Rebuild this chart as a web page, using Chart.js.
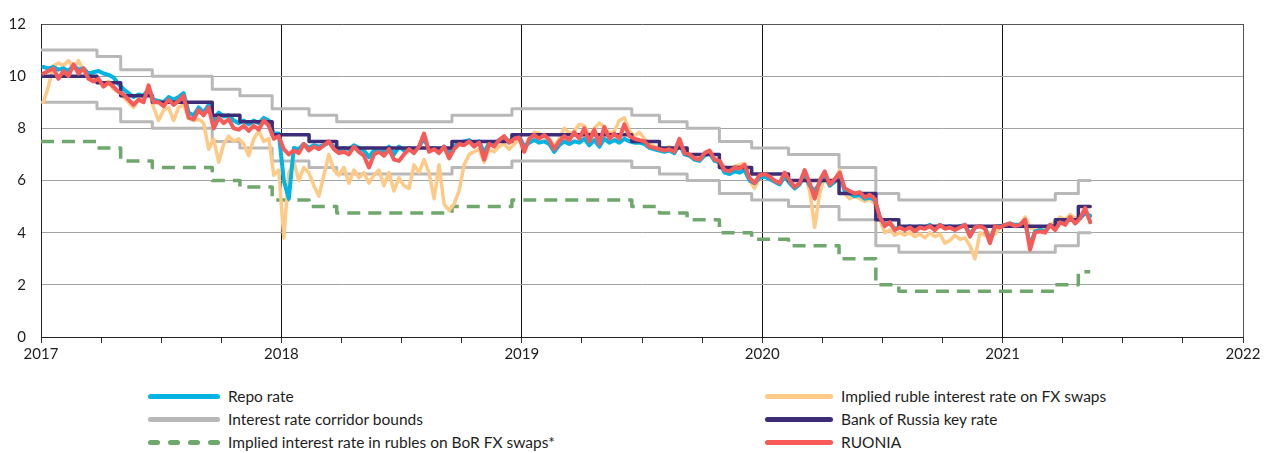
<!DOCTYPE html>
<html>
<head>
<meta charset="utf-8">
<script src="https://cdn.jsdelivr.net/npm/chart.js@4.4.1/dist/chart.umd.min.js"></script>
<style>
  body { margin: 0; background: #fff; font-family: Lato, "Liberation Sans", sans-serif; }
  #wrap { position: relative; width: 1272px; height: 453px; overflow: hidden; }
  #chartBox { position: absolute; left: 0; top: 0; width: 1272px; height: 370px; }
  .legend-item { position: absolute; height: 20px; display: flex; align-items: center; font-size: 15.5px; color: #1e1e1e; white-space: nowrap; }
  .swatch { height: 5px; border-radius: 3px; margin-right: 8px; }
  .dashes { display: flex; justify-content: space-between; margin-right: 8px; }
  .dashes span { width: 12px; height: 5px; border-radius: 3px; }
</style>
</head>
<body>
<div id="wrap">
  <div id="chartBox"><canvas id="chart"></canvas></div>
  <div id="legend"></div>
</div>
<script>
// weekly series, first point 2017.01, 48 points per year
const seriesStart = 2017.01;
const pointsPerYear = 48;

const ruonia = [
  10.1, 10.2, 10.3, 9.9, 10.2, 10.0, 10.45, 10.1, 10.3, 9.9, 9.8, 9.9, 9.6, 9.75, 9.6, 9.4, 9.3, 9.1, 8.9, 9.1, 9.0, 9.65, 9.0, 9.0, 8.85,
  9.1, 8.9, 9.05, 9.25, 8.4, 8.35, 8.7, 8.5, 8.8, 8.0, 8.4, 8.2, 8.35, 8.0, 7.95, 8.1, 7.9, 8.1, 7.95, 8.3, 8.1, 7.6, 7.7, 7.2,
  7.0, 7.15, 7.05, 7.4, 7.15, 7.3, 7.2, 7.35, 7.5, 7.2, 7.05, 7.1, 7.0, 7.3, 7.1, 6.95, 6.5, 7.0, 7.1, 6.95, 7.2, 6.8, 6.75, 7.0,
  7.2, 7.05, 7.3, 7.8, 7.1, 7.2, 7.05, 7.3, 6.85, 7.2, 7.4, 7.35, 7.5, 7.3, 7.45, 6.8, 7.4, 7.3, 7.55, 7.7, 7.45, 7.6, 7.65, 7.1,
  7.6, 7.75, 7.6, 7.75, 7.55, 7.2, 7.5, 7.7, 7.55, 7.85, 7.6, 8.0, 7.5, 7.95, 7.4, 8.05, 7.6, 7.8, 7.6, 8.15, 7.7, 7.6, 7.55, 7.5,
  7.3, 7.25, 7.2, 7.15, 7.2, 7.1, 7.6, 7.05, 7.0, 6.85, 6.8, 7.05, 7.15, 6.8, 6.75, 6.4, 6.35, 6.5, 6.45, 6.6, 6.1, 5.9, 6.2, 6.25,
  6.15, 6.0, 5.9, 6.3, 6.0, 5.75, 5.9, 6.4, 5.9, 5.3, 6.0, 6.35, 5.85, 6.05, 6.3, 5.7, 5.6, 5.5, 5.55, 5.35, 5.45, 5.3, 4.6, 4.25,
  4.4, 4.1, 4.2, 4.1, 4.2, 4.05, 4.2, 4.15, 4.25, 4.1, 4.3, 4.15, 4.2, 4.1, 4.2, 4.3, 3.85, 4.2, 4.25, 4.15, 3.6, 4.25, 4.2, 4.3,
  4.35, 4.25, 4.3, 4.5, 3.35, 4.0, 4.05, 4.0, 4.3, 4.1, 4.4, 4.3, 4.6, 4.35, 4.55, 4.95, 4.4
];

const repoRate = [
  10.35, 10.3, 10.35, 10.25, 10.3, 10.2, 10.4, 10.25, 10.3, 10.1, 10.15, 10.2, 10.1, 10.05, 9.95, 9.7, 9.5, 9.35, 9.2, 9.3, 9.25, 9.5, 9.1, 9.05, 9.0,
  9.2, 9.1, 9.2, 9.35, 8.6, 8.5, 8.8, 8.6, 8.9, 8.3, 8.6, 8.45, 8.5, 8.3, 8.2, 8.3, 8.15, 8.3, 8.2, 8.4, 8.3, 7.8, 7.8, 6.0,
  5.3, 7.25, 7.2, 7.4, 7.25, 7.35, 7.3, 7.35, 7.45, 7.3, 7.2, 7.25, 7.2, 7.35, 7.25, 7.15, 6.9, 7.15, 7.2, 7.1, 7.3, 7.0, 7.3, 7.15,
  7.25, 7.15, 7.3, 7.6, 7.2, 7.25, 7.15, 7.3, 7.05, 7.3, 7.45, 7.5, 7.55, 7.4, 7.5, 7.05, 7.45, 7.4, 7.55, 7.65, 7.5, 7.65, 7.7, 7.3,
  7.45, 7.55, 7.45, 7.5, 7.4, 7.1, 7.35, 7.5, 7.4, 7.5, 7.45, 7.6, 7.35, 7.55, 7.3, 7.6, 7.45, 7.55, 7.45, 7.6, 7.5, 7.45, 7.45, 7.4,
  7.25, 7.2, 7.15, 7.1, 7.15, 7.05, 7.4, 7.0, 6.95, 6.8, 6.75, 6.95, 7.05, 6.75, 6.7, 6.3, 6.25, 6.35, 6.3, 6.4, 6.0, 5.9, 6.1, 6.15,
  6.05, 5.95, 5.85, 6.15, 5.9, 5.7, 5.85, 6.2, 5.8, 5.6, 5.9, 6.2, 5.8, 5.95, 6.2, 5.6, 5.5, 5.4, 5.45, 5.3, 5.35, 5.25, 4.6, 4.3,
  4.35, 4.15, 4.2, 4.15, 4.25, 4.1, 4.25, 4.2, 4.3, 4.15, 4.3, 4.2, 4.25, 4.15, 4.25, 4.3, 3.95, 4.2, 4.25, 4.2, 3.7, 4.25, 4.25, 4.3,
  4.35, 4.3, 4.3, 4.45, 3.5, 4.05, 4.1, 4.05, 4.3, 4.15, 4.4, 4.35, 4.55, 4.4, 4.55, 4.75, 4.65
];

const fxSwapImplied = [
  9.0, 9.6, 10.4, 10.5, 10.4, 10.6, 10.3, 10.6, 10.2, 10.1, 9.9, 9.8, 9.7, 9.8, 9.5, 9.4, 9.2, 9.0, 8.8, 9.1, 9.2, 9.5, 8.8, 8.3, 8.7,
  8.8, 8.3, 8.8, 8.9, 8.4, 8.3, 8.35, 8.2, 7.2, 7.6, 6.7, 7.4, 7.7, 7.5, 7.6, 7.4, 6.95, 7.6, 7.9, 7.5, 7.6, 6.2, 6.4, 3.8,
  6.3, 6.7, 6.0, 6.5, 6.3, 5.8, 5.4, 6.2, 7.0, 6.4, 6.2, 6.5, 5.9, 6.4, 6.1, 6.3, 5.9, 6.2, 6.4, 5.8, 6.3, 5.6, 6.1, 5.8,
  5.7, 6.6, 6.3, 6.8, 6.3, 5.3, 6.6, 5.1, 4.85, 5.1, 5.6, 6.6, 7.0, 7.1, 7.2, 6.7, 7.2, 7.1, 7.3, 7.4, 7.2, 7.4, 7.6, 7.2,
  7.6, 7.85, 7.8, 7.7, 7.6, 7.3, 7.6, 8.0, 7.8, 7.9, 8.15, 8.1, 7.7, 8.0, 8.2, 8.05, 7.8, 7.9, 8.3, 8.4, 7.9, 7.7, 7.85, 7.6,
  7.4, 7.3, 7.25, 7.2, 7.3, 7.15, 7.5, 7.1, 6.95, 6.9, 6.85, 7.0, 7.1, 6.85, 6.8, 6.5, 6.35, 6.55, 6.6, 6.65, 6.0, 5.7, 6.1, 6.2,
  6.1, 5.95, 5.85, 6.2, 5.9, 5.7, 5.85, 6.3, 5.6, 4.2, 5.5, 6.2, 5.8, 6.0, 6.4, 5.5, 5.3, 5.4, 5.3, 5.2, 5.3, 5.1, 4.5, 4.0,
  4.1, 3.9, 4.0, 3.9, 4.0, 3.85, 3.95, 3.8, 4.0, 3.85, 3.95, 3.6, 3.7, 3.9, 3.75, 3.8, 3.5, 3.0, 4.0, 3.9, 4.0, 3.95, 4.2, 4.25,
  4.3, 4.25, 4.3, 4.6, 4.2, 4.1, 4.15, 4.1, 4.3, 4.4, 4.6, 4.5, 4.7, 4.55, 4.6, 4.75, 4.5
];

// step series: value holds from each decision date until the next one
const decisionDates = ['2017-01-01', '2017-03-27', '2017-05-02', '2017-06-19', '2017-09-18', '2017-10-30',
  '2017-12-18', '2018-02-12', '2018-03-26', '2018-09-17', '2018-12-17', '2019-06-17', '2019-07-29',
  '2019-09-09', '2019-10-28', '2019-12-16', '2020-02-10', '2020-04-27', '2020-06-22', '2020-07-27',
  '2021-03-22', '2021-04-26'];
const lastDate = '2021-05-14';
const keyRate = [10, 9.75, 9.25, 9, 8.5, 8.25, 7.75, 7.5, 7.25, 7.5, 7.75, 7.5, 7.25, 7, 6.5, 6.25, 6, 5.5, 4.5, 4.25, 4.5, 5];
const corridorUpper = [11, 10.75, 10.25, 10, 9.5, 9.25, 8.75, 8.5, 8.25, 8.5, 8.75, 8.5, 8.25, 8, 7.5, 7.25, 7, 6.5, 5.5, 5.25, 5.5, 6];
const corridorLower = [9, 8.75, 8.25, 8, 7.5, 7.25, 6.75, 6.5, 6.25, 6.5, 6.75, 6.5, 6.25, 6, 5.5, 5.25, 5, 4.5, 3.5, 3.25, 3.5, 4];
const borSwapRate = [7.5, 7.25, 6.75, 6.5, 6, 5.75, 5.25, 5, 4.75, 5, 5.25, 5, 4.75, 4.5, 4, 3.75, 3.5, 3, 2, 1.75, 2, 2.5];

const yearTicks = [2017, 2018, 2019, 2020, 2021, 2022];

function toYear(s) {
  const d = Date.parse(s + 'T00:00:00Z');
  const y = parseInt(s.slice(0, 4));
  const start = Date.UTC(y, 0, 1), end = Date.UTC(y + 1, 0, 1);
  return y + (d - start) / (end - start);
}

function weekly(values) {
  return values.map((v, i) => ({ x: seriesStart + i / pointsPerYear, y: v }));
}

function steps(values) {
  const pts = decisionDates.map((d, i) => ({ x: toYear(d), y: values[i] }));
  pts.push({ x: toYear(lastDate), y: values[values.length - 1] });
  return pts;
}

const colors = {
  repo: '#00b4e4',
  fx: '#ffc986',
  corridor: '#b8b8b8',
  key: '#3d2c78',
  bor: '#6fa86c',
  ruonia: '#f85a58'
};

function line(label, data, color, width, order, extra) {
  return Object.assign({
    label: label,
    data: data,
    borderColor: color,
    backgroundColor: color,
    borderWidth: width,
    pointRadius: 0,
    tension: 0,
    borderJoinStyle: 'round',
    borderCapStyle: 'round',
    order: order
  }, extra || {});
}

const datasets = [
  line('RUONIA', weekly(ruonia), colors.ruonia, 4, 0),
  line('Bank of Russia key rate', steps(keyRate), colors.key, 3.5, 1, { stepped: true }),
  line('Repo rate', weekly(repoRate), colors.repo, 4, 2),
  line('Implied ruble interest rate on FX swaps', weekly(fxSwapImplied), colors.fx, 3.5, 3),
  line('Implied interest rate in rubles on BoR FX swaps*', steps(borSwapRate), colors.bor, 3.5, 4,
    { stepped: true, borderDash: [13, 8], borderCapStyle: 'butt' }),
  line('Interest rate corridor bounds', steps(corridorUpper), colors.corridor, 3, 5, { stepped: true }),
  line('Interest rate corridor bounds', steps(corridorLower), colors.corridor, 3, 6, { stepped: true })
];

const tickFont = { family: 'Lato, "Liberation Sans", sans-serif', size: 15 };

new Chart(document.getElementById('chart'), {
  type: 'line',
  data: { datasets: datasets },
  options: {
    responsive: true,
    maintainAspectRatio: false,
    animation: false,
    layout: { padding: { top: 14, right: 29, left: 0, bottom: 0 } },
    plugins: { legend: { display: false }, tooltip: { enabled: false } },
    scales: {
      x: {
        type: 'linear',
        min: 2017,
        max: 2022,
        afterFit: s => { s.height = 33; },
        afterBuildTicks: s => {
          const t = [];
          for (let q = 0; q <= 20; q++) t.push({ value: 2017 + q / 4 });
          s.ticks = t;
        },
        ticks: {
          autoSkip: false,
          maxRotation: 0,
          padding: 2,
          color: '#1e1e1e',
          font: tickFont,
          callback: v => (yearTicks.includes(v) ? String(v) : '')
        },
        grid: {
          color: c => (c.tick && Number.isInteger(c.tick.value)) ? (c.tick.value === 2022 ? '#555' : '#111') : 'rgba(0,0,0,0)',
          tickColor: '#333',
          tickLength: 6,
          lineWidth: 1
        },
        border: { color: '#222', width: 1 }
      },
      y: {
        min: 0,
        max: 12,
        afterFit: s => { s.width = 41; },
        ticks: { stepSize: 2, padding: 15, color: '#1e1e1e', font: tickFont },
        grid: {
          color: c => c.tick && c.tick.value === 12 ? '#555' : '#a3a3a3',
          drawTicks: false,
          lineWidth: 1
        },
        border: { color: '#222', width: 1 }
      }
    }
  }
});

// legend laid out in two columns like the original
const legendRows = [
  [{ label: 'Repo rate', color: colors.repo }, { label: 'Implied ruble interest rate on FX swaps', color: colors.fx }],
  [{ label: 'Interest rate corridor bounds', color: colors.corridor }, { label: 'Bank of Russia key rate', color: colors.key }],
  [{ label: 'Implied interest rate in rubles on BoR FX swaps*', color: colors.bor, dashed: true }, { label: 'RUONIA', color: colors.ruonia }]
];
const legendCols = [{ left: 148, width: 72 }, { left: 765, width: 68 }];
const legendTops = [386, 409, 432];
const legend = document.getElementById('legend');
legendRows.forEach((row, r) => {
  row.forEach((item, c) => {
    const el = document.createElement('div');
    el.className = 'legend-item';
    el.style.left = legendCols[c].left + 'px';
    el.style.top = legendTops[r] + 'px';
    let sw;
    if (item.dashed) {
      sw = document.createElement('div');
      sw.className = 'dashes';
      sw.style.width = legendCols[c].width + 'px';
      for (let k = 0; k < 4; k++) {
        const d = document.createElement('span');
        d.style.background = item.color;
        sw.appendChild(d);
      }
    } else {
      sw = document.createElement('div');
      sw.className = 'swatch';
      sw.style.width = legendCols[c].width + 'px';
      sw.style.background = item.color;
    }
    el.appendChild(sw);
    el.appendChild(document.createTextNode(item.label));
    legend.appendChild(el);
  });
});
</script>
</body>
</html>
